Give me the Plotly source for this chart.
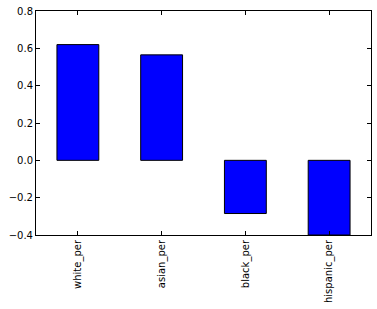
import plotly.graph_objects as go

categories = ["white_per", "asian_per", "black_per", "hispanic_per"]
values = [0.62, 0.565, -0.285, -0.40]
y_ticks = [-0.4, -0.2, 0.0, 0.2, 0.4, 0.6, 0.8]

fig = go.Figure(go.Bar(
    x=categories, y=values, width=0.5,
    marker=dict(color="#0000ff", line=dict(color="black", width=1)),
))

axis_common = dict(
    showline=True, linecolor="black", linewidth=1, mirror="ticks",
    ticks="inside", ticklen=4, tickcolor="black", tickwidth=1,
    showgrid=False, zeroline=False,
    tickfont=dict(family="DejaVu Sans", size=10, color="black"),
)

fig.update_layout(
    width=377, height=309,
    margin=dict(l=36, r=6, t=11, b=74),
    plot_bgcolor="white", paper_bgcolor="white",
    showlegend=False,
    xaxis=dict(**axis_common, tickangle=-90, range=[-0.5, 3.5]),
    yaxis=dict(**axis_common, range=[-0.4, 0.8], tickvals=y_ticks,
               tickformat=".1f"),
)

fig.write_html("out.html")
